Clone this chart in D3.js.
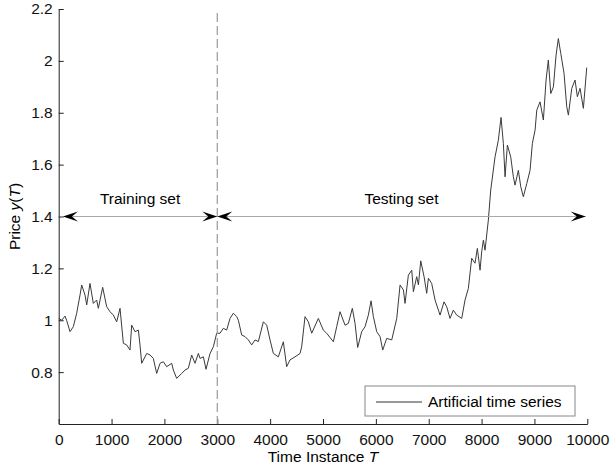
<!DOCTYPE html>
<html>
<head>
<meta charset="utf-8">
<script src="https://cdn.jsdelivr.net/npm/d3@7"></script>
<style>
  body { margin: 0; background: #fff; }
  svg { display: block; font-family: "Liberation Sans", Arial, sans-serif; }
</style>
</head>
<body>
<div id="chart"></div>
<script>
// Artificial time series
const times = [0, 57, 119, 150, 214, 277, 340, 403, 435, 498, 530, 592, 655, 718, 750, 832, 908, 971,
  1034, 1097, 1160, 1223, 1286, 1349, 1381, 1444, 1507, 1538, 1570, 1665, 1728, 1790, 1854, 1917, 1980,
  2043, 2138, 2169, 2232, 2327, 2390, 2453, 2516, 2579, 2642, 2674, 2737, 2787, 2863, 2926, 2989,
  3052, 3115, 3178, 3241, 3304, 3368, 3399, 3462, 3525, 3588, 3651, 3714, 3777, 3872, 3935, 3998,
  4061, 4155, 4250, 4313, 4376, 4471, 4566, 4597, 4660, 4723, 4786, 4912, 5006, 5069, 5196, 5259,
  5322, 5417, 5480, 5555, 5606, 5656, 5732, 5795, 5858, 5909, 5953, 6016, 6079, 6130, 6205, 6300,
  6395, 6458, 6521, 6552, 6615, 6679, 6710, 6773, 6805, 6849, 6912, 6962, 6994, 7056, 7120, 7183,
  7214, 7290, 7340, 7403, 7466, 7529, 7624, 7687, 7750, 7813, 7876, 7920, 7971, 8002, 8034, 8065,
  8128, 8173, 8255, 8317, 8368, 8412, 8444, 8488, 8551, 8601, 8633, 8696, 8741, 8790, 8855, 8917,
  8961, 9012, 9044, 9106, 9169, 9220, 9263, 9309, 9359, 9409, 9452, 9498, 9560, 9611, 9642, 9706,
  9768, 9812, 9863, 9926, 9989];
const prices = [1.007, 1.0, 1.016, 1.0, 0.956, 0.975, 1.027, 1.097, 1.136, 1.097, 1.059, 1.142, 1.065, 1.078, 1.046, 1.127, 1.052, 1.033,
  1.02, 0.994, 1.046, 0.911, 0.905, 0.885, 0.981, 0.956, 0.962, 0.905, 0.834, 0.872, 0.866, 0.853, 0.795, 0.834, 0.84,
  0.821, 0.834, 0.808, 0.776, 0.795, 0.808, 0.815, 0.866, 0.834, 0.872, 0.853, 0.859, 0.811, 0.872, 0.898, 0.95,
  0.95, 0.969, 0.962, 1.007, 1.027, 1.014, 1.0, 0.943, 0.937, 0.924, 0.905, 0.924, 0.918, 0.994, 0.981, 0.924,
  0.872, 0.859, 0.917, 0.821, 0.847, 0.859, 0.872, 0.898, 1.014, 0.994, 0.95, 1.007, 0.962, 0.95, 0.917, 0.975,
  1.033, 0.981, 0.988, 1.046, 0.988, 0.895, 0.956, 0.975, 1.02, 1.075, 1.014, 0.956, 0.937, 0.885, 0.93, 0.924,
  1.007, 1.136, 1.117, 1.065, 1.174, 1.193, 1.11, 1.168, 1.136, 1.229, 1.168, 1.104, 1.162, 1.142, 1.078, 1.039,
  1.02, 1.071, 1.052, 1.007, 1.039, 1.02, 1.007, 1.078, 1.123, 1.239, 1.22, 1.277, 1.193, 1.264, 1.309, 1.27,
  1.386, 1.502, 1.63, 1.694, 1.782, 1.682, 1.553, 1.675, 1.63, 1.553, 1.521, 1.578, 1.515, 1.476, 1.527, 1.578,
  1.682, 1.733, 1.81, 1.842, 1.772, 1.926, 2.003, 1.874, 1.9, 2.022, 2.086, 2.029, 1.952, 1.823, 1.791, 1.894,
  1.926, 1.862, 1.894, 1.817, 1.974];

const xTicks = [0, 1000, 2000, 3000, 4000, 5000, 6000, 7000, 8000, 9000, 10000];
const yTicks = [0.8, 1, 1.2, 1.4, 1.6, 1.8, 2, 2.2];
const splitAt = 3000;
const arrowLevel = 1.4;
const sets = [
  { name: "Training set", from: 80, to: 3000 },
  { name: "Testing set", from: 3000, to: 9970 }
];

const width = 612, height = 469;
const margin = { top: 9, right: 24.7, bottom: 45, left: 58.7 };
const plotW = width - margin.left - margin.right;
const plotH = height - margin.top - margin.bottom;
const fs = "15.5px";

const svg = d3.select("#chart").append("svg")
  .attr("width", width).attr("height", height);
const g = svg.append("g").attr("transform", `translate(${margin.left},${margin.top})`);

const x = d3.scaleLinear().domain([0, 10000]).range([0, plotW]);
const y = d3.scaleLinear().domain([0.6, 2.2]).range([plotH, 0]);

// axes (MATLAB style, ticks inward, no box)
const xAxis = g.append("g").attr("transform", `translate(0,${plotH})`)
  .call(d3.axisBottom(x).tickValues(xTicks).tickFormat(d3.format("d")).tickSize(-5).tickSizeOuter(0).tickPadding(10));
const yAxis = g.append("g")
  .call(d3.axisLeft(y).tickValues(yTicks).tickFormat(d3.format("~g")).tickSize(-5).tickSizeOuter(0).tickPadding(6));
[xAxis, yAxis].forEach(a => {
  a.select(".domain").attr("stroke", "#222");
  a.selectAll(".tick line").attr("stroke", "#222");
  a.selectAll("text").attr("fill", "#111").style("font-size", fs)
    .attr("font-family", "'Liberation Sans', Arial, sans-serif");
});

// series
const series = times.map((t, i) => [t, prices[i]]);
g.append("path")
  .datum(series)
  .attr("fill", "none")
  .attr("stroke", "#3a3a3a")
  .attr("stroke-width", 1)
  .attr("d", d3.line().x(d => x(d[0])).y(d => y(d[1])));

// split line
g.append("line")
  .attr("x1", x(splitAt)).attr("x2", x(splitAt))
  .attr("y1", 4).attr("y2", plotH)
  .attr("stroke", "#999").attr("stroke-width", 1.2)
  .attr("stroke-dasharray", "9,4");

// double-headed arrows
function head(tx, ty, dir) {
  const L = 15, W = 5, N = 9;
  return `M${tx},${ty} L${tx - dir * L},${ty - W} L${tx - dir * N},${ty} L${tx - dir * L},${ty + W} Z`;
}
const ay = y(arrowLevel);
sets.forEach(s => {
  const x0 = x(s.from), x1 = x(s.to);
  g.append("line")
    .attr("x1", x0).attr("x2", x1).attr("y1", ay).attr("y2", ay)
    .attr("stroke", "#aaa").attr("stroke-width", 1);
  g.append("path").attr("d", head(x0, ay, -1)).attr("fill", "#000");
  g.append("path").attr("d", head(x1, ay, 1)).attr("fill", "#000");
  g.append("text")
    .attr("x", (x0 + x1) / 2)
    .attr("y", ay - 13)
    .attr("text-anchor", "middle")
    .style("font-size", fs)
    .text(s.name);
});

// legend
const lg = g.append("g").attr("transform", `translate(${365 - margin.left},${386 - margin.top})`);
lg.append("rect").attr("width", 210).attr("height", 30)
  .attr("fill", "#fff").attr("stroke", "#888");
lg.append("line").attr("x1", 11).attr("x2", 57).attr("y1", 16).attr("y2", 16)
  .attr("stroke", "#333").attr("stroke-width", 1);
lg.append("text").attr("x", 63).attr("y", 21)
  .style("font-size", fs).text("Artificial time series");

// axis titles
const xt = svg.append("text")
  .attr("x", margin.left + plotW / 2).attr("y", 462)
  .attr("text-anchor", "middle").style("font-size", fs);
xt.append("tspan").text("Time Instance ");
xt.append("tspan").attr("font-style", "italic").text("T");

const yt = svg.append("text")
  .attr("transform", `translate(20,${margin.top + plotH / 2}) rotate(-90)`)
  .attr("text-anchor", "middle").style("font-size", fs);
yt.append("tspan").text("Price ");
yt.append("tspan").attr("font-style", "italic").text("y");
yt.append("tspan").text("(");
yt.append("tspan").attr("font-style", "italic").text("T");
yt.append("tspan").text(")");
</script>
</body>
</html>
